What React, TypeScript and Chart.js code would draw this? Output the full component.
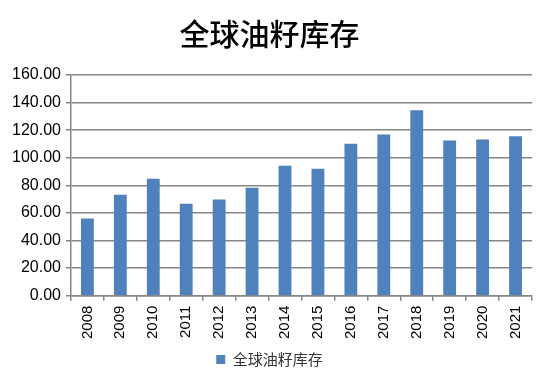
import React, { useEffect, useRef } from "react";
import { Chart, registerables } from "chart.js";

Chart.register(...registerables);

const categories = ["2008", "2009", "2010", "2011", "2012", "2013", "2014", "2015", "2016", "2017", "2018", "2019", "2020", "2021"];
const seriesName = "全球油籽库存";
const values = [55.9, 73.2, 84.8, 66.6, 69.7, 78.3, 94.1, 92.1, 110.1, 116.9, 134.4, 112.5, 113.3, 115.5];
const titleText = "全球油籽库存";

export default function App() {
  const ref = useRef<HTMLCanvasElement>(null);
  useEffect(() => {
    document.body.style.margin = "0";
    const chart = new Chart(ref.current!, {
      type: "bar",
      data: {
        labels: categories,
        datasets: [
          {
            label: seriesName,
            data: values,
            backgroundColor: "#4F81BD",
            barPercentage: 0.39,
            categoryPercentage: 1,
          },
        ],
      },
      options: {
        animation: false,
        responsive: false,
        maintainAspectRatio: false,
        layout: { padding: { left: 7, right: 18, top: 12, bottom: 14 } },
        plugins: {
          title: {
            display: true,
            text: titleText,
            color: "#000",
            font: { family: "'Noto Sans CJK SC'", size: 30, weight: 500 },
            padding: { top: 4, bottom: 23 },
          },
          legend: {
            display: true,
            position: "bottom",
            labels: {
              color: "#333",
              font: { family: "'Noto Sans CJK SC'", size: 15 },
              boxWidth: 9,
              boxHeight: 9,
              padding: 8,
            },
          },
          tooltip: { enabled: false },
        },
        scales: {
          x: {
            grid: {
              offset: true,
              drawOnChartArea: false,
              drawTicks: true,
              tickLength: 5,
              color: "#868686",
              lineWidth: 1.5,
            },
            border: { color: "#868686", width: 1.5 },
            ticks: {
              color: "#000",
              font: { family: "'Liberation Sans'", size: 15 },
              maxRotation: 90,
              minRotation: 90,
              padding: 5,
            },
          },
          y: {
            min: 0,
            max: 160,
            grid: {
              color: "#868686",
              lineWidth: 1.5,
              tickLength: 5,
            },
            border: { color: "#868686", width: 1.5 },
            ticks: {
              stepSize: 20,
              color: "#000",
              font: { family: "'Liberation Sans'", size: 16 },
              padding: 5,
              callback: (v: any) => Number(v).toFixed(2),
            },
          },
        },
      },
    });
    return () => chart.destroy();
  }, []);
  return (
    <div style={{ width: 550, height: 391 }}>
      <canvas ref={ref} width={550} height={391} />
    </div>
  );
}
